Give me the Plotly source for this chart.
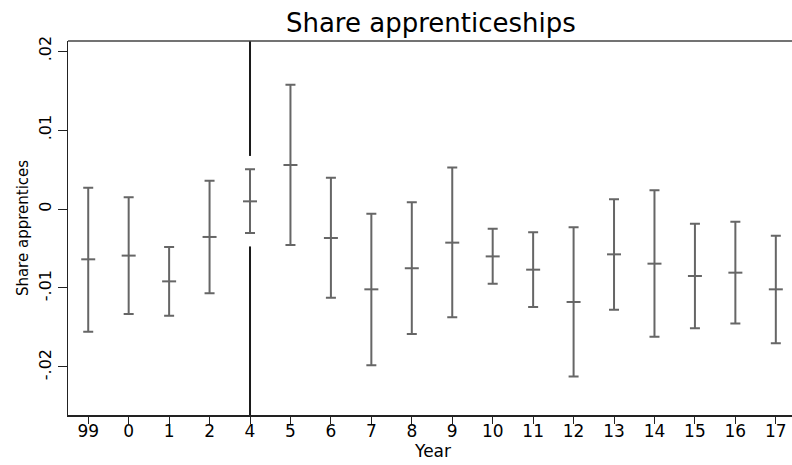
import plotly.graph_objects as go

# ---- data ----
years = ["99", "0", "1", "2", "4", "5", "6", "7", "8", "9",
         "10", "11", "12", "13", "14", "15", "16", "17"]
estimate = [-0.00637, -0.0059, -0.00916, -0.00354, 0.00097, 0.00557, -0.00367, -0.01017, -0.0075,
            -0.00426, -0.0060, -0.00768, -0.01177, -0.00574, -0.00692, -0.00848, -0.00806, -0.01017]
upper = [0.0027, 0.00148, -0.00481, 0.00359, 0.00502, 0.01574, 0.00397, -0.00059, 0.00084,
         0.00527, -0.0025, -0.00295, -0.00232, 0.00122, 0.00236, -0.00186, -0.0016, -0.00338]
lower = [-0.01553, -0.01329, -0.0135, -0.01068, -0.00304, -0.00456, -0.01122, -0.01979, -0.01582,
         -0.0137, -0.00945, -0.0124, -0.02122, -0.01274, -0.01616, -0.0151, -0.01451, -0.017]
ytick_vals = [0.02, 0.01, 0.0, -0.01, -0.02]
ytick_text = [".02", ".01", "0", "-.01", "-.02"]
ref_year = "4"

FONT = "DejaVu Sans"
BAR = "#666666"
AX = "#222222"

x = list(range(len(years)))
err_plus = [u - e for u, e in zip(upper, estimate)]
err_minus = [e - l for e, l in zip(estimate, lower)]

fig = go.Figure()
fig.add_trace(go.Scatter(
    x=x, y=estimate, mode="markers",
    marker=dict(symbol="line-ew", size=10, line=dict(width=2, color=BAR), color=BAR),
    error_y=dict(type="data", symmetric=False, array=err_plus, arrayminus=err_minus,
                 color=BAR, thickness=2, width=5),
    showlegend=False, hoverinfo="skip",
))

ri = years.index(ref_year)
pad = 0.0017
fig.add_shape(type="line", xref="x", yref="paper", x0=ri, x1=ri, y0=0, y1=1,
              line=dict(color="#1a1a1a", width=2), layer="below")
fig.add_shape(type="line", xref="x", yref="y", x0=ri, x1=ri,
              y0=lower[ri] - pad, y1=upper[ri] + pad,
              line=dict(color="white", width=4), layer="below")
# top frame line (no right frame in the reference)
fig.add_shape(type="line", xref="paper", yref="paper", x0=0, x1=1, y0=1, y1=1,
              line=dict(color="#444444", width=1.5), layer="above")

fig.add_annotation(text="Year", xref="paper", yref="paper", x=0.503, y=-0.097,
                   xanchor="center", yanchor="middle", showarrow=False,
                   font=dict(family=FONT, size=17, color="black"))

fig.update_layout(
    width=792, height=465,
    margin=dict(l=68, r=0, t=41, b=50, pad=0),
    paper_bgcolor="white", plot_bgcolor="white",
    title=dict(text="Share apprenticeships", x=0.544, xanchor="center",
               y=0.951, yanchor="middle",
               font=dict(family=FONT, size=26, color="black")),
    font=dict(family=FONT, color="black"),
    dragmode=False,
)
fig.update_xaxes(
    range=[-0.5, 17.4], tickmode="array", tickvals=x, ticktext=years,
    showgrid=False, zeroline=False,
    showline=True, linecolor=AX, linewidth=1.5, mirror=False,
    ticks="outside", ticklen=7, tickwidth=1, tickcolor=AX,
    ticklabelstandoff=-7, fixedrange=True,
    tickfont=dict(family=FONT, size=17, color="black"),
)
fig.update_yaxes(
    range=[-0.02608, 0.02127], tickmode="array", tickvals=ytick_vals, ticktext=ytick_text,
    tickangle=-90, showgrid=False, zeroline=False,
    showline=True, linecolor=AX, linewidth=1.5, mirror=False,
    ticks="outside", ticklen=9, tickwidth=1, tickcolor=AX, fixedrange=True,
    tickfont=dict(family=FONT, size=16, color="black"),
    title=dict(text="Share apprentices", font=dict(family=FONT, size=15, color="black"), standoff=4),
)

fig.write_html("out.html", config={"displayModeBar": False, "staticPlot": True},
               post_script="document.body.style.margin='0';document.body.style.overflow='hidden';")
